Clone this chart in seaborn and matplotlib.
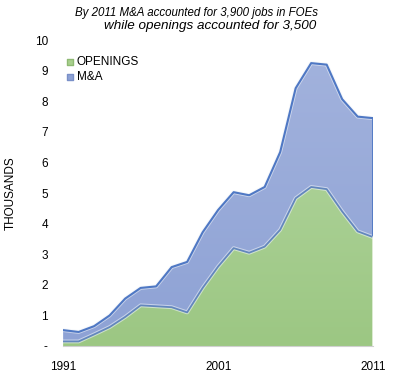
import numpy as np
import pandas as pd
import matplotlib.pyplot as plt
import matplotlib.patheffects as pe
from matplotlib.colors import LinearSegmentedColormap
import seaborn as sns

# =====================================
# Datos (miles de empleos)
# =====================================

years = list(range(1991, 2012))
openings = [0.15, 0.15, 0.38, 0.62, 0.95, 1.33, 1.3, 1.27, 1.1, 1.9, 2.6,
            3.2, 3.05, 3.25, 3.8, 4.83, 5.2, 5.13, 4.4, 3.75, 3.56]
m_and_a = [0.37, 0.31, 0.27, 0.38, 0.6, 0.57, 0.65, 1.31, 1.65, 1.82, 1.85,
           1.83, 1.88, 1.95, 2.54, 3.6, 4.05, 4.07, 3.67, 3.75, 3.89]
year_labels = ["1991", "2001", "2011"]
y_labels = ["-", "1", "2", "3", "4", "5", "6", "7", "8", "9", "10"]

df = pd.DataFrame({"year": years, "OPENINGS": openings, "M&A": m_and_a})
df["total"] = df["OPENINGS"] + df["M&A"]

# =====================================
# Figura
# =====================================

sns.set_style("white", {"text.color": "black", "axes.labelcolor": "black",
                        "xtick.color": "black", "ytick.color": "black"})
plt.rcParams["font.family"] = ["Liberation Sans", "DejaVu Sans"]

fig = plt.figure(figsize=(3.97, 3.79), dpi=100)
ax = fig.add_axes([0.159, 0.087, 0.781, 0.807])

green_cmap = LinearSegmentedColormap.from_list("g", ["#9cc783", "#b6d8a4"])
blue_cmap = LinearSegmentedColormap.from_list("b", ["#8ea2d5", "#a3b3dd"])

# areas apiladas con degradado
def gradient_fill(lower, upper, cmap, z):
    poly = ax.fill_between(df["year"], lower, upper, color="none", lw=0, zorder=z)
    grad = np.linspace(0, 1, 256).reshape(-1, 1)
    im = ax.imshow(grad, cmap=cmap, origin="lower", aspect="auto",
                   extent=[1991, 2011, 0, 10], zorder=z)
    im.set_clip_path(poly.get_paths()[0], transform=ax.transData)

gradient_fill(0, df["OPENINGS"], green_cmap, 1)
gradient_fill(df["OPENINGS"], df["total"], blue_cmap, 1)

glow = [pe.Stroke(linewidth=2.8, foreground="#eef2f8", alpha=0.6), pe.Normal()]
sns.lineplot(data=df, x="year", y="OPENINGS", color="#6387bd", lw=1.3,
             ax=ax, zorder=3, path_effects=glow)
sns.lineplot(data=df, x="year", y="total", color="#4f78c4", lw=1.5,
             ax=ax, zorder=3, path_effects=glow)
ax.plot([2011, 2011], [df["OPENINGS"].iloc[-1], df["total"].iloc[-1]],
        color="#4f78c4", lw=1.3, zorder=3)
ax.plot([2011, 2011], [0, df["OPENINGS"].iloc[-1]], color="#e8f2e0", lw=1.2, zorder=3)

# leyenda
ax.scatter([], [], marker="s", s=22, color="#a8d08d", edgecolor="#8fba74",
           label="OPENINGS")
ax.scatter([], [], marker="s", s=22, color="#8ea2d5", edgecolor="#7a90c8",
           label="M&A")
ax.legend(loc="upper left", bbox_to_anchor=(-0.012, 0.964), frameon=False,
          fontsize=8.5, handletextpad=0.05, labelspacing=0.25,
          handlelength=1.0, borderaxespad=0)

# ejes
ax.set_xlim(1991, 2011)
ax.set_ylim(0, 10)
ax.set_yticks(range(0, 11))
ax.set_yticklabels(y_labels, fontsize=8.5)
ax.set_xticks([1991, 2001, 2011])
ax.set_xticklabels(year_labels, fontsize=8.5)
ax.set_xticks(years, minor=True)
ax.tick_params(axis="y", length=0, pad=11)
ax.tick_params(axis="x", which="both", length=4, color="#c8c8c8",
               labelcolor="black", direction="out", pad=7)
ax.set_xlabel("")
ax.set_ylabel("THOUSANDS", fontsize=8.5, labelpad=13)

for side in ["top", "right", "left"]:
    ax.spines[side].set_visible(False)
ax.spines["bottom"].set_color("#d0d0d0")
ax.spines["bottom"].set_zorder(4)

# titulo
fig.text(0.496, 0.966, "By 2011 M&A accounted for 3,900 jobs in FOEs",
         ha="center", va="center", fontsize=8.3, style="italic")
fig.text(0.53, 0.931, "while openings accounted for 3,500",
         ha="center", va="center", fontsize=9.7, style="italic")

plt.savefig("out.png", dpi=100)
